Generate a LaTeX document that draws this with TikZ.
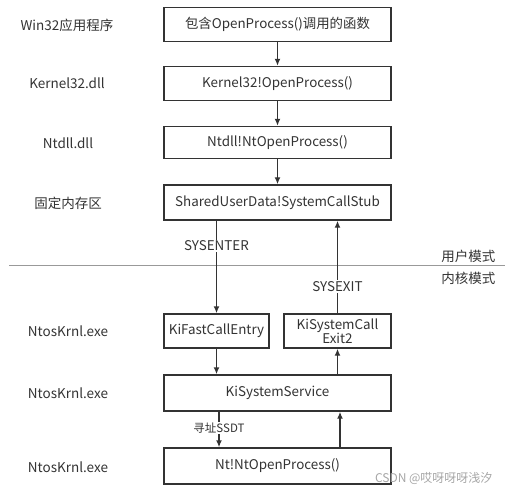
\documentclass[tikz,border=0pt]{standalone}
\usepackage{fontspec}
\setmainfont{Noto Sans CJK SC}
\usetikzlibrary{arrows.meta}
\definecolor{ln}{HTML}{333333}
\definecolor{tx}{HTML}{333333}
\tikzset{
  box/.style={draw=ln, line width=1.4pt, minimum height=34pt, inner sep=0pt, text=tx, font=\fontsize{13.4}{15}\selectfont, align=center},
  side/.style={text=tx, font=\fontsize{13.5}{15}\selectfont},
  arr/.style={draw=ln, line width=1.4pt, -{Latex[length=7pt,width=6pt]}},
  lab/.style={fill=white, text=tx, font=\fontsize{13.4}{15}\selectfont, inner sep=1pt},
  slab/.style={fill=white, text=tx, font=\fontsize{11.5}{13}\selectfont, inner sep=1pt},
}
\begin{document}
\begin{tikzpicture}[x=1pt,y=-1pt]
\useasboundingbox (0,0) rectangle (510,494);
% boxes
\node[box, minimum width=227pt] (b1) at (277.5,24.5) {包含OpenProcess()调用的函数};
\node[box, minimum width=227pt] (b2) at (277.5,83.5) {Kernel32!OpenProcess()};
\node[box, minimum width=227pt, minimum height=32pt] (b3) at (277.5,142.5) {Ntdll!NtOpenProcess()};
\node[box, minimum width=227pt, minimum height=35pt] (b4) at (277.5,202.5) {SharedUserData!SystemCallStub};
\node[box, minimum width=105pt] (kf) at (216.5,331) {KiFastCallEntry};
\node[box, minimum width=107pt, font=\fontsize{13.4}{14}\selectfont] (ke) at (337.5,331) {KiSystemCall\\Exit2};
\node[box, minimum width=227pt, minimum height=36pt] (ks) at (277.5,393) {KiSystemService};
\node[box, minimum width=227pt, minimum height=36pt] (nt) at (277.5,466) {Nt!NtOpenProcess()};
% side labels
\node[side] (l1) at (67,25) {Win32应用程序};
\node[side] (l2) at (67,83) {Kernel32.dll};
\node[side] (l3) at (68,143) {Ntdll.dll};
\node[side] (l4) at (68,203) {固定内存区};
\node[side] (l5) at (68,331) {NtosKrnl.exe};
\node[side] (l6) at (68,393) {NtosKrnl.exe};
\node[side] (l7) at (68,467) {NtosKrnl.exe};
% mode line
\coordinate (m1) at (9,265);
\coordinate (m2) at (505,265);
\draw[draw=gray!80, line width=0.8pt] (m1) -- (m2);
\node[side, anchor=east] (um) at (499,256) {用户模式};
\node[side, anchor=east] (km) at (499,278) {内核模式};
% arrows
\draw[arr] (b1.south) -- (b2.north);
\draw[arr] (b2.south) -- (b3.north);
\draw[arr] (b3.south) -- (b4.north);
\draw[arr] (b4.south -| kf.north) -- node[lab, pos=0.27] {SYSENTER} (kf.north);
\draw[arr] (ke.north) -- node[lab, pos=0.29] {SYSEXIT} (b4.south -| ke.north);
\draw[arr] (kf.south) -- (ks.north -| kf.south);
\draw[arr] (ks.north -| ke.south) -- (ke.south);
\coordinate (sd) at (219,0);
\draw[arr] (ks.south -| sd) -- node[slab, pos=0.46] {寻址SSDT} (nt.north -| sd);
\coordinate (su) at (340,0);
\draw[arr] (nt.north -| su) -- (ks.south -| su);
% watermark
\node[text=gray!70, font=\fontsize{12}{13}\selectfont, anchor=east] (wm) at (496,478) {CSDN @哎呀呀呀浅汐};
\end{tikzpicture}
\end{document}
